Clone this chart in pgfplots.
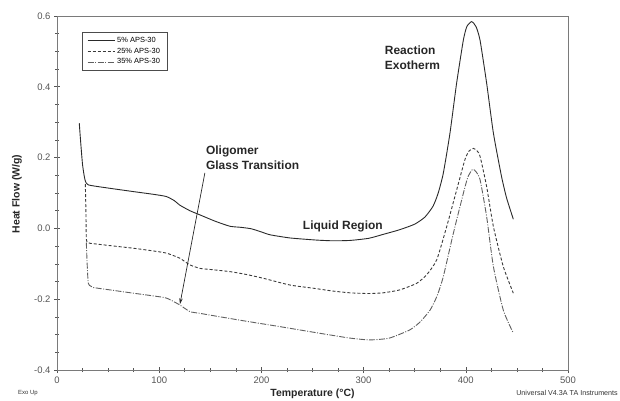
\documentclass[border=0pt]{standalone}
\usepackage{fontspec}
\setmainfont{Liberation Sans}
\usepackage{pgfplots}
\pgfplotsset{compat=1.18}
\usetikzlibrary{arrows.meta}
\definecolor{axisgray}{HTML}{7A7A7A}
\definecolor{tickgray}{HTML}{555555}
\definecolor{curveA}{HTML}{2A2A2A}
\definecolor{curveB}{HTML}{3A3A3A}
\definecolor{curveC}{HTML}{606060}
\begin{document}
\begin{tikzpicture}[x=1bp,y=1bp]
\useasboundingbox (0,0) rectangle (620,400);
\begin{axis}[
  at={(57bp,30bp)}, anchor=south west,
  scale only axis, width=511bp, height=354bp,
  xmin=0, xmax=500, ymin=-0.4, ymax=0.6,
  xtick={0,100,200,300,400,500},
  ytick={-0.4,-0.2,0,0.2,0.4,0.6},
  minor x tick num=3, minor y tick num=3,
  tick align=center, major tick length=6bp, minor tick length=4bp,
  xtick pos=bottom, ytick pos=left,
  axis line style={axisgray, line width=0.8bp},
  tick style={tickgray, line width=0.6bp},
  /pgf/number format/assume math mode=true,
  ticklabel style={font=\fontsize{9.5}{11}\selectfont, text=tickgray},
  yticklabel style={/pgf/number format/.cd, fixed, fixed zerofill, precision=1},
  xticklabel style={/pgf/number format/.cd, fixed, precision=0},
  legend style={at={(0.0489,0.9548)}, anchor=north west, draw=black!70, line width=0.6bp,
    fill=white, font=\fontsize{7.5}{9}\selectfont, inner xsep=5bp, inner ysep=3bp,
    row sep=0bp, cells={anchor=west}},
  legend image code/.code={\draw[#1] (0bp,0bp) -- (27bp,0bp);},
  clip=false,
]
\addplot[curveA, line width=0.9bp, smooth, tension=0.35] coordinates {
(21.8,0.297) (23,0.25) (25,0.18) (27.4,0.137) (30.6,0.123) (50,0.114) (74.7,0.104)
(95,0.096) (107,0.090) (115,0.078) (120,0.066) (130,0.050) (140,0.038) (155,0.020)
(169.3,0.006) (180,0.003) (190,-0.001) (200,-0.010) (208.4,-0.018) (228,-0.027)
(254,-0.033) (270,-0.035) (286.7,-0.034) (305,-0.028) (319,-0.017) (335,-0.004)
(350,0.012) (360,0.032) (368,0.063) (373,0.100) (378,0.156) (384.5,0.269) (391,0.410)
(397.6,0.532) (401,0.570) (405.7,0.584) (410,0.570) (413.9,0.532) (420.4,0.410)
(427,0.269) (435,0.146) (440,0.085) (446.5,0.026)
};
\addlegendentry{5\% APS-30}
\addplot[curveB, line width=0.9bp, dash pattern=on 3bp off 2bp, smooth, tension=0.35] coordinates {
(27.7,0.125) (28.3,0.05) (28.7,-0.03) (30,-0.040) (32.3,-0.042) (50,-0.048) (74.7,-0.056)
(95,-0.064) (107.3,-0.070) (120,-0.084) (130,-0.103) (140,-0.113) (150,-0.116)
(169,-0.122) (185,-0.130) (202,-0.141) (228,-0.160) (250.8,-0.169) (270,-0.177)
(286.7,-0.182) (305,-0.184) (319,-0.182) (335,-0.174) (352,-0.155) (362,-0.130)
(371.5,-0.089) (381.3,0.005) (391,0.108) (399,0.193) (403,0.218) (407.4,0.226)
(411,0.219) (414,0.203) (420.4,0.118) (427,0.005) (436.7,-0.108) (446.5,-0.183)
};
\addlegendentry{25\% APS-30}
\addplot[curveC, line width=0.9bp, dash pattern=on 6bp off 1.5bp on 1bp off 1.5bp, smooth, tension=0.35] coordinates {
(28.7,-0.04) (29.5,-0.10) (30.6,-0.155) (33,-0.163) (35.5,-0.167) (55,-0.175)
(74.7,-0.183) (95,-0.191) (107.3,-0.197) (120,-0.216) (130,-0.235) (140,-0.240)
(160,-0.250) (189,-0.264) (215,-0.276) (238,-0.287) (265,-0.300) (287,-0.310)
(306,-0.315) (325,-0.310) (345,-0.287) (355,-0.265) (365,-0.231) (372,-0.190)
(378,-0.136) (387.8,-0.014) (397.6,0.099) (402,0.145) (406.7,0.167) (410,0.160)
(414,0.137) (420.4,0.033) (427,-0.108) (436.7,-0.231) (446.5,-0.296)
};
\addlegendentry{35\% APS-30}
\draw[black!85, line width=0.7bp, -{Stealth[length=6bp,width=3.5bp]}] (axis cs:144.7,0.157) -- (axis cs:120.3,-0.214);
\node[anchor=west, inner sep=0, align=left, font=\bfseries\fontsize{12}{15}\selectfont, text=black!85] at (axis cs:145.7,0.200) {Oligomer\\Glass Transition};
\node[anchor=west, inner sep=0, align=left, font=\bfseries\fontsize{12}{15}\selectfont, text=black!85] at (axis cs:320.7,0.483) {Reaction\\Exotherm};
\node[anchor=west, inner sep=0, font=\bfseries\fontsize{12}{14}\selectfont, text=black!85] at (axis cs:240.5,0.005) {Liquid Region};
\end{axis}
\node[anchor=west, inner sep=0, font=\fontsize{6}{7}\selectfont, text=black!80] at (18,7) {Exo Up};
\node[anchor=east, inner sep=0, font=\fontsize{7.2}{9}\selectfont, text=black!80] at (618,7) {Universal V4.3A TA Instruments};
\node[inner sep=0, font=\bfseries\fontsize{10.5}{12}\selectfont, text=black!85] at (312.5,6) {Temperature (°C)};
\node[rotate=90, inner sep=0, font=\bfseries\fontsize{10.5}{12}\selectfont, text=black!85] at (17,206) {Heat Flow (W/g)};
\end{tikzpicture}
\end{document}
